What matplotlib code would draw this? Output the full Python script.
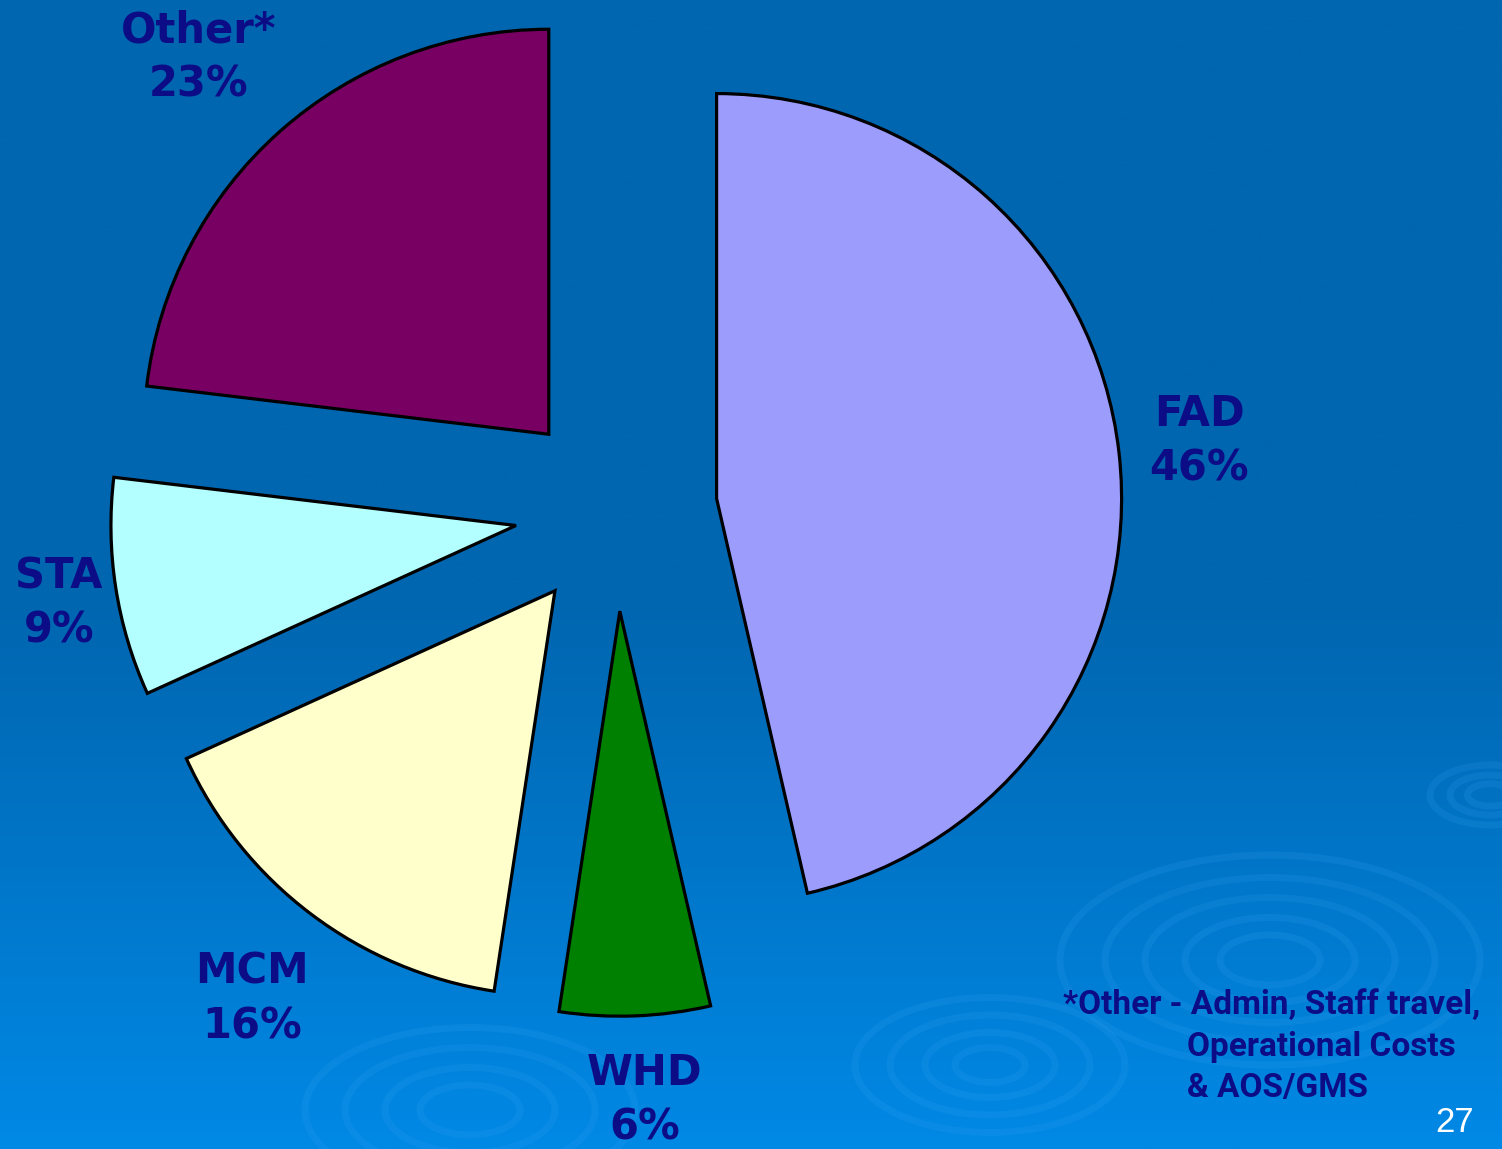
import numpy as np
import matplotlib
matplotlib.use("Agg")
import matplotlib.pyplot as plt
from matplotlib.patches import Ellipse

# ---- data ----
categories = ["FAD", "WHD", "MCM", "STA", "Other*"]
shares = [46.4, 6.0, 15.8, 8.7, 23.1]
colors = ["#9c9cfd", "#008000", "#ffffcc", "#b3ffff", "#770062"]
footnote = ["*Other - Admin, Staff travel,", "Operational Costs", "& AOS/GMS"]
page_number = "27"

# label placement styling: (distance from wedge centre, angular tweak in deg)
label_dist = [1.20, 1.21, 1.255, 1.145, 1.27]
label_dtheta = [0.3, 0.7, 0.5, 0.85, 1.36]

W, H = 1502, 1149
fig = plt.figure(figsize=(W / 100, H / 100), dpi=100)

# ---- background gradient ----
bg = fig.add_axes([0, 0, 1, 1])
bg.axis("off")
t = np.linspace(0, 1, 400)
s = np.clip((t - 0.52) / 0.48, 0, 1) ** 1.1
top = np.array([0x00, 0x66, 0xb0]) / 255
bot = np.array([0x00, 0x89, 0xe6]) / 255
grad = top[None, :] * (1 - s[:, None]) + bot[None, :] * s[:, None]
img = np.repeat(grad[:, None, :], 2, axis=1)
bg.imshow(img, extent=[0, W, H, 0], aspect="auto", zorder=0)

# subtle ripples
ripples = [(1270, 960, [420, 330, 250, 170, 100]),
           (990, 1065, [270, 200, 130, 70]),
           (470, 1110, [330, 250, 170, 100]),
           (1490, 795, [120, 80, 45])]
for rx, ry, ws in ripples:
    for w in ws:
        bg.add_patch(Ellipse((rx, ry), w, w * 0.5, fill=False,
                             edgecolor="#3aa6f5", lw=5, alpha=0.16, zorder=1))
bg.set_xlim(0, W)
bg.set_ylim(H, 0)

# ---- pie ----
ax = fig.add_axes([0, 0, 1, 1])
ax.patch.set_alpha(0)
R = 405.0
cx, cy = 616.0, 510.0

wedges, _ = ax.pie(shares, colors=colors, startangle=90, counterclock=False,
                   explode=[0.25] * len(shares), radius=1,
                   wedgeprops=dict(edgecolor="black", linewidth=2.3))
ax.axis("off")
ax.set_aspect("auto")
ax.set_xlim(-cx / R, (W - cx) / R)
ax.set_ylim(-(H - cy) / R, cy / R)

for w, name, val, ld, dt in zip(wedges, categories, shares, label_dist, label_dtheta):
    mid = np.deg2rad((w.theta1 + w.theta2) / 2 + dt)
    x = w.center[0] + ld * np.cos(mid)
    y = w.center[1] + ld * np.sin(mid)
    ax.text(x, y, f"{name}\n{val:.0f}%", ha="center", va="center",
            fontsize=30, fontweight="bold", color="#0c0c86",
            family="DejaVu Sans", linespacing=1.38)

# ---- footnote & page number ----
fn_kw = dict(fontsize=24, fontweight="bold", color="#0c0c86",
             family=["Roboto", "DejaVu Sans"],
             va="center", ha="left")
fig.text(1063 / W, 1 - 1005 / H, footnote[0], **fn_kw)
fig.text(1187 / W, 1 - 1047 / H, footnote[1], **fn_kw)
fig.text(1187 / W, 1 - 1088 / H, footnote[2], **fn_kw)
fig.text(1455 / W, 1 - 1123 / H, page_number, fontsize=25, color="white",
         family="Liberation Sans", ha="center", va="center")

fig.savefig("out.png", dpi=100)
